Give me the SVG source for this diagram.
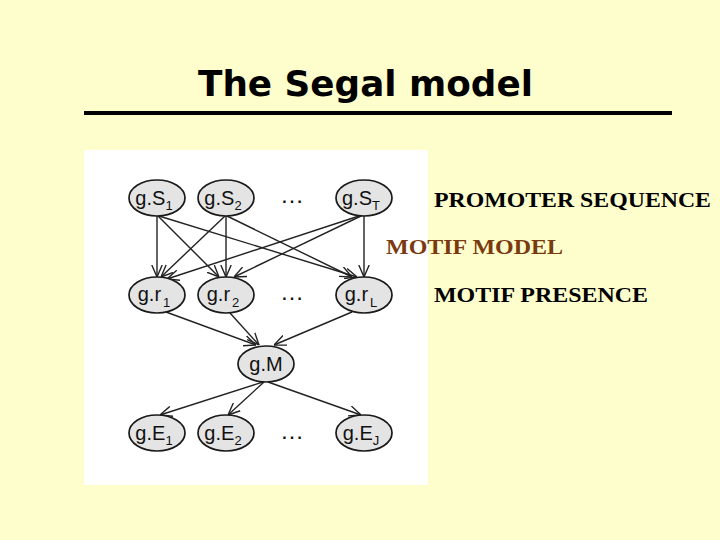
<svg xmlns="http://www.w3.org/2000/svg" width="720" height="540" viewBox="0 0 720 540">
<style>
.node ellipse{fill:#e4e4e4;stroke:#1a1a1a;stroke-width:1.7}
.lbl{font-family:"Liberation Sans",Arial,sans-serif;font-size:20px;fill:#111;text-anchor:middle}
.sub{font-size:13px}
.dots{font-family:"Liberation Sans",Arial,sans-serif;font-size:24px;fill:#111;text-anchor:middle}
.edges line{stroke:#222;stroke-width:1.4;marker-end:url(#arr)}
.side{font-family:"Liberation Serif","Times New Roman",serif;font-weight:bold;font-size:22px;fill:#000}
</style>
<defs>
<marker id="arr" viewBox="0 0 12 12" refX="12" refY="6" markerWidth="12" markerHeight="12" markerUnits="userSpaceOnUse" orient="auto">
<path d="M0,0.8 L12,6 L0,11.2" fill="none" stroke="#222" stroke-width="1.4"/>
</marker>
</defs>
<rect width="720" height="540" fill="#fefecc"/>
<text x="198" y="96" font-family="'DejaVu Sans',Verdana,sans-serif" font-weight="bold" font-size="35" textLength="335" lengthAdjust="spacingAndGlyphs" fill="#000">The Segal model</text>
<line x1="84" y1="113" x2="672" y2="113" stroke="#000" stroke-width="4"/>
<rect x="84" y="150" width="344" height="335" fill="#fff"/>
<g class="edges">
<line x1="157" y1="216" x2="157" y2="277"/>
<line x1="158" y1="216" x2="219" y2="277"/>
<line x1="159" y1="216" x2="357" y2="277"/>
<line x1="225" y1="216" x2="161" y2="277"/>
<line x1="226" y1="216" x2="226" y2="277"/>
<line x1="227" y1="216" x2="352" y2="277"/>
<line x1="362" y1="215" x2="167" y2="279"/>
<line x1="363" y1="215" x2="234" y2="277"/>
<line x1="364" y1="215" x2="364" y2="277"/>
<line x1="166" y1="312" x2="256" y2="345"/>
<line x1="230" y1="313" x2="259" y2="345"/>
<line x1="352" y1="312" x2="274" y2="345"/>
<line x1="263" y1="382" x2="160" y2="415"/>
<line x1="264" y1="382" x2="228" y2="415"/>
<line x1="268" y1="382" x2="361" y2="415"/>
</g>
<g id="S1" class="node"><ellipse cx="157" cy="198" rx="28" ry="18"/><text class="lbl" x="154" y="205">g.S<tspan class="sub" dy="5">1</tspan></text></g>
<g id="S2" class="node"><ellipse cx="226" cy="198" rx="28" ry="18"/><text class="lbl" x="223" y="205">g.S<tspan class="sub" dy="5">2</tspan></text></g>
<g id="ST" class="node"><ellipse cx="364" cy="198" rx="28" ry="18"/><text class="lbl" x="361" y="205">g.S<tspan class="sub" dy="5">T</tspan></text></g>
<g id="r1" class="node"><ellipse cx="157" cy="295" rx="28" ry="18"/><text class="lbl" x="154" y="301">g.r<tspan class="sub" dx="2" dy="6">1</tspan></text></g>
<g id="r2" class="node"><ellipse cx="226" cy="295" rx="28" ry="18"/><text class="lbl" x="223" y="301">g.r<tspan class="sub" dx="2" dy="6">2</tspan></text></g>
<g id="rL" class="node"><ellipse cx="364" cy="295" rx="28" ry="18"/><text class="lbl" x="361" y="301">g.r<tspan class="sub" dx="2" dy="6">L</tspan></text></g>
<g id="M" class="node"><ellipse cx="266" cy="364" rx="28" ry="18"/><text class="lbl" x="266" y="371">g.M</text></g>
<g id="E1" class="node"><ellipse cx="157" cy="433" rx="28" ry="18"/><text class="lbl" x="154" y="440">g.E<tspan class="sub" dy="5">1</tspan></text></g>
<g id="E2" class="node"><ellipse cx="226" cy="433" rx="28" ry="18"/><text class="lbl" x="223" y="440">g.E<tspan class="sub" dy="5">2</tspan></text></g>
<g id="EJ" class="node"><ellipse cx="364" cy="433" rx="28" ry="18"/><text class="lbl" x="361" y="440">g.E<tspan class="sub" dy="5">J</tspan></text></g>
<text class="dots" x="292" y="203">…</text>
<text class="dots" x="292" y="300">…</text>
<text class="dots" x="292" y="439">…</text>
<text class="side" x="434" y="207" textLength="277" lengthAdjust="spacingAndGlyphs">PROMOTER SEQUENCE</text>
<text class="side" x="386" y="254" textLength="177" lengthAdjust="spacingAndGlyphs" style="fill:#7a3a10">MOTIF MODEL</text>
<text class="side" x="434" y="302" textLength="214" lengthAdjust="spacingAndGlyphs">MOTIF PRESENCE</text>
</svg>
